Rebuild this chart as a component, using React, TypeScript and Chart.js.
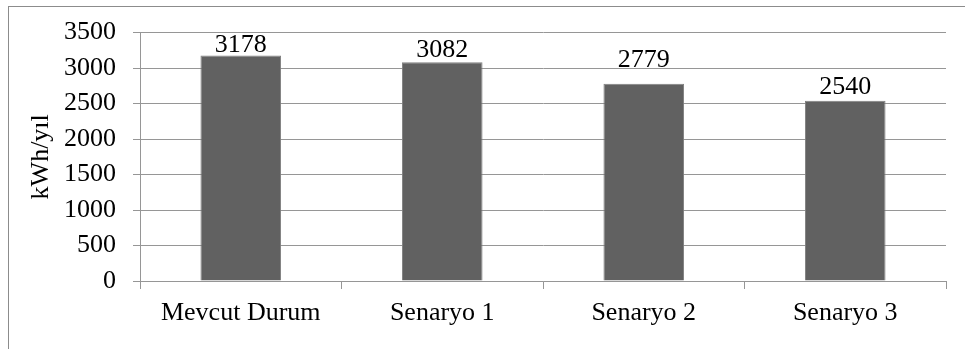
import React, { useEffect, useRef } from "react";
import { Chart, registerables } from "chart.js";

Chart.register(...registerables);

const categories = ["Mevcut Durum", "Senaryo 1", "Senaryo 2", "Senaryo 3"];
const energyUse = [3178, 3082, 2779, 2540];
const yTicks = [0, 500, 1000, 1500, 2000, 2500, 3000, 3500];
const yTitle = "kWh/yıl";

const FONT = '"Liberation Serif", "Times New Roman", serif';
const GRID = "#969696";

// Value labels sitting above each bar
const barLabels = {
  id: "barLabels",
  afterDatasetsDraw(chart: Chart, _args: unknown, opts: { gaps: number[] }) {
    const { ctx } = chart;
    const meta = chart.getDatasetMeta(0);
    const values = chart.data.datasets[0].data as number[];
    ctx.save();
    ctx.font = `26px ${FONT}`;
    ctx.fillStyle = "#000";
    ctx.textAlign = "center";
    ctx.textBaseline = "alphabetic";
    meta.data.forEach((bar: any, i: number) => {
      const gap = opts.gaps?.[i] ?? 5;
      ctx.fillText(String(values[i]), bar.x, bar.y - gap);
    });
    ctx.restore();
  },
};

export default function App() {
  const canvasRef = useRef<HTMLCanvasElement>(null);

  useEffect(() => {
    if (!canvasRef.current) return;
    const chart = new Chart(canvasRef.current, {
      type: "bar",
      data: {
        labels: categories,
        datasets: [
          {
            data: energyUse,
            backgroundColor: "#616161",
            borderColor: "#808080",
            borderWidth: 1,
            categoryPercentage: 1,
            barPercentage: 0.4,
          },
        ],
      },
      plugins: [barLabels],
      options: {
        animation: false,
        responsive: false,
        maintainAspectRatio: false,
        devicePixelRatio: 1,
        layout: { padding: { top: 30, right: 19, left: 0, bottom: 0 } },
        plugins: {
          legend: { display: false },
          tooltip: { enabled: false },
          barLabels: { gaps: [3, 5, 17, 7] },
        } as any,
        scales: {
          x: {
            offset: true,
            grid: {
              display: true,
              offset: true,
              drawOnChartArea: false,
              drawTicks: true,
              tickLength: 8,
              color: GRID,
            },
            border: { display: true, color: GRID, width: 1 },
            ticks: {
              color: "#000",
              font: { family: FONT, size: 26 },
              padding: 9,
              maxRotation: 0,
            },
            afterFit(scale: any) {
              scale.height = 68;
            },
          },
          y: {
            min: 0,
            max: 3500,
            afterBuildTicks(scale: any) {
              scale.ticks = yTicks.map((v) => ({ value: v }));
            },
            grid: {
              color: GRID,
              drawTicks: true,
              tickLength: 7,
            },
            border: { display: true, color: GRID, width: 1 },
            ticks: {
              color: "#000",
              font: { family: FONT, size: 26 },
              padding: 17,
              callback: (v: any) => String(v),
            },
            title: {
              display: true,
              text: yTitle,
              color: "#000",
              font: { family: FONT, size: 26 },
              padding: { top: 26, bottom: 0 },
            },
            afterFit(scale: any) {
              scale.width = 140;
            },
          },
        },
      },
    });
    return () => chart.destroy();
  }, []);

  return (
    <div
      style={{
        position: "fixed",
        left: 0,
        top: 0,
        width: 965,
        height: 349,
        overflow: "hidden",
        background: "#fff",
      }}
    >
      <div
        style={{
          position: "absolute",
          left: 8,
          top: 6,
          width: 980,
          height: 360,
          border: "1px solid #8c8c8c",
          boxSizing: "border-box",
        }}
      />
      <canvas
        ref={canvasRef}
        width={965}
        height={349}
        style={{ position: "absolute", left: 0, top: 0, width: 965, height: 349 }}
      />
    </div>
  );
}
